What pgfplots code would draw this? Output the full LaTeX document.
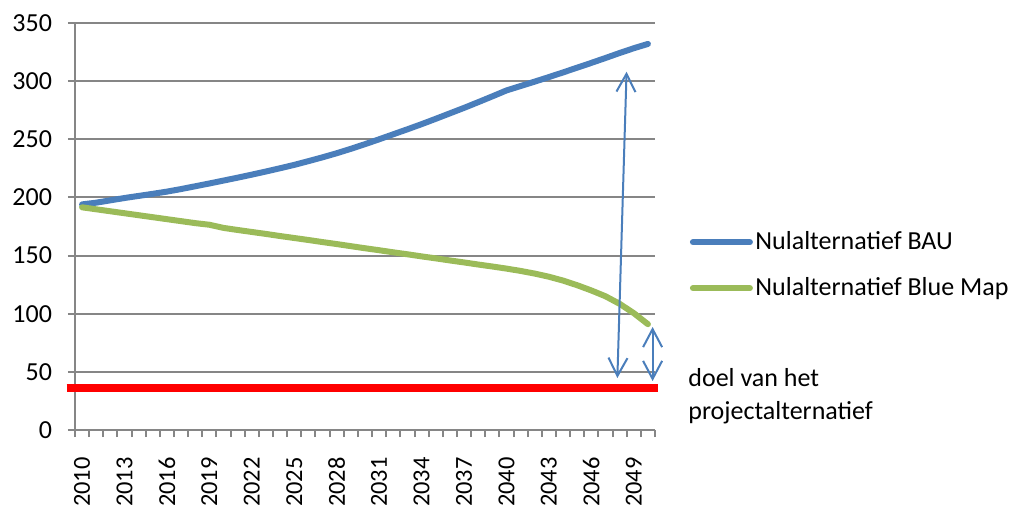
\documentclass[border=0pt]{standalone}
\usepackage{fontspec}
\setmainfont{Carlito}
\usepackage{pgfplots}
\pgfplotsset{compat=1.18}
\usetikzlibrary{arrows.meta}
\definecolor{bau}{HTML}{4A7EBB}
\definecolor{bm}{HTML}{9BBB59}
\definecolor{gridg}{HTML}{868686}
\newcommand\xf{\fontsize{12.2bp}{14bp}\selectfont}
\begin{document}
\begin{tikzpicture}
\path[use as bounding box] (-37.5bp,-39.5bp) rectangle (469.5bp,215bp);
\begin{axis}[
  at={(0,0)}, anchor=south west,
  scale only axis, width=290bp, height=203.5bp,
  xmin=-0.5, xmax=40.5, ymin=0, ymax=350,
  clip=false,
  axis x line*=bottom, axis y line*=left,
  axis line style={gridg, line width=1bp},
  every tick/.style={gridg, line width=1bp},
  tick align=outside,
  major tick length=3.5bp,
  ytick={0,50,...,350},
  ymajorgrids,
  major grid style={gridg, line width=1bp},
  xtick={-0.5,0.5,...,40.5},
  xticklabels={},
  xticklabel style={rotate=90, anchor=east, xshift=-13.5bp, inner sep=0pt},
  extra x ticks={0,3,...,39},
  extra x tick labels={{\xf 2010},{\xf 2013},{\xf 2016},{\xf 2019},{\xf 2022},{\xf 2025},{\xf 2028},{\xf 2031},{\xf 2034},{\xf 2037},{\xf 2040},{\xf 2043},{\xf 2046},{\xf 2049}},
  extra x tick style={major tick length=0pt, grid=none},
  /pgf/number format/assume math mode=true,
  yticklabel style={font=\fontsize{13bp}{15bp}\selectfont, anchor=east, xshift=-4.5bp},
  legend style={draw=none, fill=none, inner sep=0pt,
    at={(rel axis cs:1.0595,0.405)}, anchor=west,
    font=\fontsize{13bp}{15bp}\selectfont,
    row sep=10bp, nodes={inner sep=1.25bp}, cells={anchor=west}},
  legend image code/.code={\draw[#1] (0bp,0bp) -- (28.5bp,0bp);},
]
\addplot[bau, line width=3bp, line join=round, line cap=round] coordinates {
(0,194.0) (1,195.5) (2,197.5) (3,199.5) (4,201.3) (5,203.1) (6,205.0) (7,207.2)
(8,209.6) (9,212.0) (10,214.5) (11,217.0) (12,219.6) (13,222.3) (14,225.1)
(15,228.0) (16,231.2) (17,234.5) (18,238.0) (19,241.8) (20,245.8) (21,250.0)
(22,254.3) (23,258.6) (24,263.0) (25,267.6) (26,272.3) (27,277.0) (28,281.9)
(29,286.9) (30,292.0) (31,295.8) (32,299.6) (33,303.5) (34,307.5) (35,311.6)
(36,315.7) (37,319.9) (38,324.2) (39,328.3) (40,332.0)
};
\addlegendentry{Nulalternatief BAU}
\addplot[bm, line width=3bp, line join=round, line cap=round] coordinates {
(0,191.5) (1,189.8) (2,188.1) (3,186.4) (4,184.7) (5,183.0) (6,181.3) (7,179.6)
(8,177.9) (9,176.5) (10,173.8) (11,172.0) (12,170.3) (13,168.6) (14,166.8)
(15,165.1) (16,163.4) (17,161.6) (18,159.9) (19,158.1) (20,156.3) (21,154.6)
(22,152.8) (23,151.1) (24,149.3) (25,147.6) (26,145.8) (27,144.1) (28,142.3)
(29,140.6) (30,138.8) (31,136.8) (32,134.5) (33,131.8) (34,128.5) (35,124.5)
(36,120.0) (37,115.0) (38,108.5) (39,100.5) (40,91.0)
};
\addlegendentry{Nulalternatief Blue Map}
\addplot[red, line width=4.35bp, forget plot] coordinates {(-1.1,36.1) (40.7,36.1)};
\addplot[bau, line width=1bp, forget plot,
  arrows={Straight Barb[length=9bp,width=9.5bp]-Straight Barb[length=9bp,width=9.5bp]}]
  coordinates {(37.84,44.7) (38.49,308.1)};
\addplot[bau, line width=1bp, forget plot,
  arrows={Straight Barb[length=9bp,width=9.5bp]-Straight Barb[length=9bp,width=9.5bp]}]
  coordinates {(40.33,42.1) (40.33,88.6)};
\node[anchor=base west, inner sep=0pt, font=\fontsize{13bp}{16bp}\selectfont]
  at (rel axis cs:1.0569,0.1064) {doel van het};
\node[anchor=base west, inner sep=0pt, font=\fontsize{13bp}{16bp}\selectfont]
  at (rel axis cs:1.0569,0.027) {projectalternatief};
\end{axis}
\end{tikzpicture}
\end{document}
